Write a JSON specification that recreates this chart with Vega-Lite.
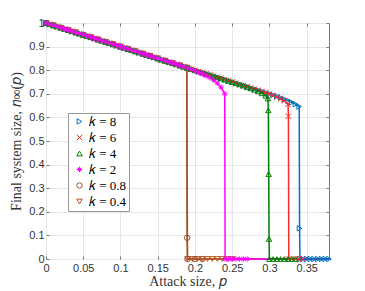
{
  "$schema": "https://vega.github.io/schema/vega-lite/v6.json",
  "width": 283,
  "height": 236,
  "autosize": {"type": "none"},
  "padding": {"left": 46, "top": 23, "right": 36, "bottom": 32},
  "background": "white",
  "config": {
    "view": {"stroke": "#777", "strokeWidth": 1},
    "font": "Liberation Sans",
    "axis": {
      "domain": false,
      "gridColor": "#e6e6e6",
      "gridWidth": 1,
      "tickColor": "#777",
      "tickSize": -3,
      "labelFont": "Liberation Sans",
      "labelFontSize": 11,
      "labelColor": "#333",
      "titleFont": "Liberation Serif",
      "titleFontSize": 14,
      "titleFontWeight": "normal",
      "titleColor": "#333"
    },
    "legend": {
      "orient": "none",
      "legendX": 22,
      "legendY": 90,
      "padding": 2,
      "rowPadding": 2,
      "fillColor": "white",
      "strokeColor": "#999",
      "labelFont": "Liberation Serif",
      "labelFontSize": 13,
      "labelColor": "#000",
      "symbolSize": 30,
      "symbolStrokeWidth": 1,
      "symbolOffset": 3,
      "labelOffset": 3
    }
  },
  "datasets": {
    "pts": [
      {"k":"0.4","p":0,"n":1},{"k":"0.4","p":0.01,"n":0.99},{"k":"0.4","p":0.02,"n":0.98},{"k":"0.4","p":0.03,"n":0.97},{"k":"0.4","p":0.04,"n":0.96},{"k":"0.4","p":0.05,"n":0.95},{"k":"0.4","p":0.06,"n":0.94},{"k":"0.4","p":0.07,"n":0.93},{"k":"0.4","p":0.08,"n":0.92},{"k":"0.4","p":0.09,"n":0.91},{"k":"0.4","p":0.1,"n":0.9},{"k":"0.4","p":0.11,"n":0.89},{"k":"0.4","p":0.12,"n":0.88},{"k":"0.4","p":0.13,"n":0.87},{"k":"0.4","p":0.14,"n":0.86},{"k":"0.4","p":0.15,"n":0.85},{"k":"0.4","p":0.16,"n":0.84},{"k":"0.4","p":0.17,"n":0.83},{"k":"0.4","p":0.18,"n":0.82},{"k":"0.4","p":0.189,"n":0.811},{"k":"0.4","p":0.19,"n":0},{"k":"0.4","p":0.1967,"n":0},{"k":"0.4","p":0.2033,"n":0},{"k":"0.4","p":0.21,"n":0},{"k":"0.4","p":0.2167,"n":0},{"k":"0.4","p":0.2233,"n":0},{"k":"0.4","p":0.23,"n":0},{"k":"0.4","p":0.2367,"n":0},{"k":"0.4","p":0.2433,"n":0},{"k":"0.4","p":0.25,"n":0},
      {"k":"0.8","p":0,"n":1},{"k":"0.8","p":0.01,"n":0.99},{"k":"0.8","p":0.02,"n":0.98},{"k":"0.8","p":0.03,"n":0.97},{"k":"0.8","p":0.04,"n":0.96},{"k":"0.8","p":0.05,"n":0.95},{"k":"0.8","p":0.06,"n":0.94},{"k":"0.8","p":0.07,"n":0.93},{"k":"0.8","p":0.08,"n":0.92},{"k":"0.8","p":0.09,"n":0.91},{"k":"0.8","p":0.1,"n":0.9},{"k":"0.8","p":0.11,"n":0.89},{"k":"0.8","p":0.12,"n":0.88},{"k":"0.8","p":0.13,"n":0.87},{"k":"0.8","p":0.14,"n":0.86},{"k":"0.8","p":0.15,"n":0.85},{"k":"0.8","p":0.16,"n":0.84},{"k":"0.8","p":0.17,"n":0.83},{"k":"0.8","p":0.18,"n":0.82},{"k":"0.8","p":0.189,"n":0.811},{"k":"0.8","p":0.1895,"n":0.09},{"k":"0.8","p":0.19,"n":0},{"k":"0.8","p":0.2,"n":0},{"k":"0.8","p":0.21,"n":0},
      {"k":"8","p":0,"n":1},{"k":"8","p":0.005,"n":0.995},{"k":"8","p":0.01,"n":0.99},{"k":"8","p":0.015,"n":0.985},{"k":"8","p":0.02,"n":0.98},{"k":"8","p":0.025,"n":0.975},{"k":"8","p":0.03,"n":0.97},{"k":"8","p":0.035,"n":0.965},{"k":"8","p":0.04,"n":0.96},{"k":"8","p":0.045,"n":0.955},{"k":"8","p":0.05,"n":0.95},{"k":"8","p":0.055,"n":0.945},{"k":"8","p":0.06,"n":0.94},{"k":"8","p":0.065,"n":0.935},{"k":"8","p":0.07,"n":0.93},{"k":"8","p":0.075,"n":0.925},{"k":"8","p":0.08,"n":0.92},{"k":"8","p":0.085,"n":0.915},{"k":"8","p":0.09,"n":0.91},{"k":"8","p":0.095,"n":0.905},{"k":"8","p":0.1,"n":0.9},{"k":"8","p":0.105,"n":0.895},{"k":"8","p":0.11,"n":0.89},{"k":"8","p":0.115,"n":0.885},{"k":"8","p":0.12,"n":0.88},{"k":"8","p":0.125,"n":0.875},{"k":"8","p":0.13,"n":0.87},{"k":"8","p":0.135,"n":0.865},{"k":"8","p":0.14,"n":0.86},{"k":"8","p":0.145,"n":0.855},{"k":"8","p":0.15,"n":0.85},{"k":"8","p":0.155,"n":0.845},{"k":"8","p":0.16,"n":0.84},{"k":"8","p":0.165,"n":0.835},{"k":"8","p":0.17,"n":0.83},{"k":"8","p":0.175,"n":0.825},{"k":"8","p":0.18,"n":0.82},{"k":"8","p":0.185,"n":0.815},{"k":"8","p":0.19,"n":0.81},{"k":"8","p":0.195,"n":0.805},{"k":"8","p":0.2,"n":0.8},{"k":"8","p":0.205,"n":0.795},{"k":"8","p":0.21,"n":0.79},{"k":"8","p":0.215,"n":0.785},{"k":"8","p":0.22,"n":0.78},{"k":"8","p":0.225,"n":0.775},{"k":"8","p":0.23,"n":0.77},{"k":"8","p":0.235,"n":0.765},{"k":"8","p":0.24,"n":0.76},{"k":"8","p":0.245,"n":0.755},{"k":"8","p":0.25,"n":0.75},{"k":"8","p":0.255,"n":0.745},{"k":"8","p":0.26,"n":0.74},{"k":"8","p":0.265,"n":0.735},{"k":"8","p":0.27,"n":0.73},{"k":"8","p":0.275,"n":0.725},{"k":"8","p":0.28,"n":0.72},{"k":"8","p":0.285,"n":0.715},{"k":"8","p":0.29,"n":0.71},{"k":"8","p":0.295,"n":0.705},{"k":"8","p":0.3,"n":0.7},{"k":"8","p":0.305,"n":0.695},{"k":"8","p":0.31,"n":0.69},{"k":"8","p":0.315,"n":0.684},{"k":"8","p":0.32,"n":0.677},{"k":"8","p":0.325,"n":0.671},{"k":"8","p":0.33,"n":0.664},{"k":"8","p":0.335,"n":0.656},{"k":"8","p":0.34,"n":0.646},{"k":"8","p":0.3405,"n":0.13},{"k":"8","p":0.341,"n":0},{"k":"8","p":0.345,"n":0},{"k":"8","p":0.35,"n":0},{"k":"8","p":0.355,"n":0},{"k":"8","p":0.36,"n":0},{"k":"8","p":0.365,"n":0},{"k":"8","p":0.37,"n":0},{"k":"8","p":0.375,"n":0},{"k":"8","p":0.38,"n":0},
      {"k":"6","p":0,"n":1},{"k":"6","p":0.005,"n":0.995},{"k":"6","p":0.01,"n":0.99},{"k":"6","p":0.015,"n":0.985},{"k":"6","p":0.02,"n":0.98},{"k":"6","p":0.025,"n":0.975},{"k":"6","p":0.03,"n":0.97},{"k":"6","p":0.035,"n":0.965},{"k":"6","p":0.04,"n":0.96},{"k":"6","p":0.045,"n":0.955},{"k":"6","p":0.05,"n":0.95},{"k":"6","p":0.055,"n":0.945},{"k":"6","p":0.06,"n":0.94},{"k":"6","p":0.065,"n":0.935},{"k":"6","p":0.07,"n":0.93},{"k":"6","p":0.075,"n":0.925},{"k":"6","p":0.08,"n":0.92},{"k":"6","p":0.085,"n":0.915},{"k":"6","p":0.09,"n":0.91},{"k":"6","p":0.095,"n":0.905},{"k":"6","p":0.1,"n":0.9},{"k":"6","p":0.105,"n":0.895},{"k":"6","p":0.11,"n":0.89},{"k":"6","p":0.115,"n":0.885},{"k":"6","p":0.12,"n":0.88},{"k":"6","p":0.125,"n":0.875},{"k":"6","p":0.13,"n":0.87},{"k":"6","p":0.135,"n":0.865},{"k":"6","p":0.14,"n":0.86},{"k":"6","p":0.145,"n":0.855},{"k":"6","p":0.15,"n":0.85},{"k":"6","p":0.155,"n":0.845},{"k":"6","p":0.16,"n":0.84},{"k":"6","p":0.165,"n":0.835},{"k":"6","p":0.17,"n":0.83},{"k":"6","p":0.175,"n":0.825},{"k":"6","p":0.18,"n":0.82},{"k":"6","p":0.185,"n":0.815},{"k":"6","p":0.19,"n":0.81},{"k":"6","p":0.195,"n":0.805},{"k":"6","p":0.2,"n":0.8},{"k":"6","p":0.205,"n":0.795},{"k":"6","p":0.21,"n":0.79},{"k":"6","p":0.215,"n":0.785},{"k":"6","p":0.22,"n":0.78},{"k":"6","p":0.225,"n":0.775},{"k":"6","p":0.23,"n":0.77},{"k":"6","p":0.235,"n":0.765},{"k":"6","p":0.24,"n":0.76},{"k":"6","p":0.245,"n":0.755},{"k":"6","p":0.25,"n":0.75},{"k":"6","p":0.255,"n":0.745},{"k":"6","p":0.26,"n":0.74},{"k":"6","p":0.265,"n":0.735},{"k":"6","p":0.27,"n":0.73},{"k":"6","p":0.275,"n":0.725},{"k":"6","p":0.28,"n":0.72},{"k":"6","p":0.285,"n":0.715},{"k":"6","p":0.29,"n":0.71},{"k":"6","p":0.295,"n":0.705},{"k":"6","p":0.3,"n":0.699},{"k":"6","p":0.305,"n":0.693},{"k":"6","p":0.31,"n":0.686},{"k":"6","p":0.315,"n":0.679},{"k":"6","p":0.32,"n":0.671},{"k":"6","p":0.325,"n":0.656},{"k":"6","p":0.3255,"n":0.605},{"k":"6","p":0.326,"n":0},{"k":"6","p":0.33,"n":0},{"k":"6","p":0.335,"n":0},{"k":"6","p":0.34,"n":0},{"k":"6","p":0.345,"n":0},
      {"k":"4","p":0,"n":1},{"k":"4","p":0.005,"n":0.995},{"k":"4","p":0.01,"n":0.99},{"k":"4","p":0.015,"n":0.985},{"k":"4","p":0.02,"n":0.98},{"k":"4","p":0.025,"n":0.975},{"k":"4","p":0.03,"n":0.97},{"k":"4","p":0.035,"n":0.965},{"k":"4","p":0.04,"n":0.96},{"k":"4","p":0.045,"n":0.955},{"k":"4","p":0.05,"n":0.95},{"k":"4","p":0.055,"n":0.945},{"k":"4","p":0.06,"n":0.94},{"k":"4","p":0.065,"n":0.935},{"k":"4","p":0.07,"n":0.93},{"k":"4","p":0.075,"n":0.925},{"k":"4","p":0.08,"n":0.92},{"k":"4","p":0.085,"n":0.915},{"k":"4","p":0.09,"n":0.91},{"k":"4","p":0.095,"n":0.905},{"k":"4","p":0.1,"n":0.9},{"k":"4","p":0.105,"n":0.895},{"k":"4","p":0.11,"n":0.89},{"k":"4","p":0.115,"n":0.885},{"k":"4","p":0.12,"n":0.88},{"k":"4","p":0.125,"n":0.875},{"k":"4","p":0.13,"n":0.87},{"k":"4","p":0.135,"n":0.865},{"k":"4","p":0.14,"n":0.86},{"k":"4","p":0.145,"n":0.855},{"k":"4","p":0.15,"n":0.85},{"k":"4","p":0.155,"n":0.845},{"k":"4","p":0.16,"n":0.84},{"k":"4","p":0.165,"n":0.835},{"k":"4","p":0.17,"n":0.83},{"k":"4","p":0.175,"n":0.825},{"k":"4","p":0.18,"n":0.82},{"k":"4","p":0.185,"n":0.815},{"k":"4","p":0.19,"n":0.81},{"k":"4","p":0.195,"n":0.805},{"k":"4","p":0.2,"n":0.8},{"k":"4","p":0.205,"n":0.795},{"k":"4","p":0.21,"n":0.79},{"k":"4","p":0.215,"n":0.785},{"k":"4","p":0.22,"n":0.78},{"k":"4","p":0.225,"n":0.775},{"k":"4","p":0.23,"n":0.77},{"k":"4","p":0.235,"n":0.765},{"k":"4","p":0.24,"n":0.76},{"k":"4","p":0.245,"n":0.755},{"k":"4","p":0.25,"n":0.75},{"k":"4","p":0.255,"n":0.745},{"k":"4","p":0.26,"n":0.74},{"k":"4","p":0.265,"n":0.735},{"k":"4","p":0.27,"n":0.729},{"k":"4","p":0.275,"n":0.723},{"k":"4","p":0.28,"n":0.717},{"k":"4","p":0.285,"n":0.71},{"k":"4","p":0.29,"n":0.702},{"k":"4","p":0.295,"n":0.692},{"k":"4","p":0.298,"n":0.68},{"k":"4","p":0.2985,"n":0.63},{"k":"4","p":0.299,"n":0.36},{"k":"4","p":0.2995,"n":0.085},{"k":"4","p":0.3,"n":0},{"k":"4","p":0.305,"n":0},{"k":"4","p":0.31,"n":0},{"k":"4","p":0.315,"n":0},{"k":"4","p":0.32,"n":0},{"k":"4","p":0.325,"n":0},{"k":"4","p":0.33,"n":0},{"k":"4","p":0.335,"n":0},
      {"k":"2","p":0,"n":1},{"k":"2","p":0.005,"n":0.995},{"k":"2","p":0.01,"n":0.99},{"k":"2","p":0.015,"n":0.985},{"k":"2","p":0.02,"n":0.98},{"k":"2","p":0.025,"n":0.975},{"k":"2","p":0.03,"n":0.97},{"k":"2","p":0.035,"n":0.965},{"k":"2","p":0.04,"n":0.96},{"k":"2","p":0.045,"n":0.955},{"k":"2","p":0.05,"n":0.95},{"k":"2","p":0.055,"n":0.945},{"k":"2","p":0.06,"n":0.94},{"k":"2","p":0.065,"n":0.935},{"k":"2","p":0.07,"n":0.93},{"k":"2","p":0.075,"n":0.925},{"k":"2","p":0.08,"n":0.92},{"k":"2","p":0.085,"n":0.915},{"k":"2","p":0.09,"n":0.91},{"k":"2","p":0.095,"n":0.905},{"k":"2","p":0.1,"n":0.9},{"k":"2","p":0.105,"n":0.895},{"k":"2","p":0.11,"n":0.89},{"k":"2","p":0.115,"n":0.885},{"k":"2","p":0.12,"n":0.88},{"k":"2","p":0.125,"n":0.875},{"k":"2","p":0.13,"n":0.87},{"k":"2","p":0.135,"n":0.865},{"k":"2","p":0.14,"n":0.86},{"k":"2","p":0.145,"n":0.855},{"k":"2","p":0.15,"n":0.85},{"k":"2","p":0.155,"n":0.845},{"k":"2","p":0.16,"n":0.84},{"k":"2","p":0.165,"n":0.835},{"k":"2","p":0.17,"n":0.83},{"k":"2","p":0.175,"n":0.825},{"k":"2","p":0.18,"n":0.82},{"k":"2","p":0.185,"n":0.815},{"k":"2","p":0.19,"n":0.809},{"k":"2","p":0.195,"n":0.803},{"k":"2","p":0.2,"n":0.797},{"k":"2","p":0.205,"n":0.791},{"k":"2","p":0.21,"n":0.784},{"k":"2","p":0.215,"n":0.776},{"k":"2","p":0.22,"n":0.768},{"k":"2","p":0.225,"n":0.758},{"k":"2","p":0.23,"n":0.745},{"k":"2","p":0.235,"n":0.728},{"k":"2","p":0.24,"n":0.7},{"k":"2","p":0.2405,"n":0},{"k":"2","p":0.245,"n":0},{"k":"2","p":0.25,"n":0},{"k":"2","p":0.255,"n":0},{"k":"2","p":0.26,"n":0},{"k":"2","p":0.265,"n":0},{"k":"2","p":0.27,"n":0}
    ],
    "tails": [
      {"k":"0.4","p":0.25,"n":0},{"k":"0.4","p":0.38,"n":0},
      {"k":"0.8","p":0.21,"n":0},{"k":"0.8","p":0.38,"n":0},
      {"k":"6","p":0.345,"n":0},{"k":"6","p":0.38,"n":0},
      {"k":"4","p":0.335,"n":0},{"k":"4","p":0.38,"n":0},
      {"k":"2","p":0.27,"n":0},{"k":"2","p":0.38,"n":0}
    ]
  },
  "layer": [
    {
      "encoding": {
        "x": {
          "field": "p", "type": "quantitative",
          "scale": {"domain": [0, 0.38], "nice": false, "zero": false},
          "axis": {"title": "Attack size, 𝑝", "values": [0, 0.05, 0.1, 0.15, 0.2, 0.25, 0.3, 0.35], "format": "~g", "labelPadding": 6, "titlePadding": 1, "labelFlush": false}
        },
        "y": {
          "field": "n", "type": "quantitative",
          "scale": {"domain": [0, 1], "nice": false},
          "axis": {"title": "Final system size, 𝑛∞(𝑝)", "values": [0, 0.1, 0.2, 0.3, 0.4, 0.5, 0.6, 0.7, 0.8, 0.9, 1], "format": "~g", "labelPadding": 5, "titlePadding": 5, "labelFlush": false}
        },
        "color": {"field": "k", "type": "nominal", "scale": {"domain": ["8", "6", "4", "2", "0.8", "0.4"], "range": ["#0072BD", "#FF2A2A", "#008000", "#FF00FF", "#A0522D", "#B8561E"]}, "legend": {"title": null, "labelExpr": "'𝑘 = ' + datum.label"}}
      },
      "layer": [
        {
          "data": {"name": "tails"},
          "mark": {"type": "line", "strokeWidth": 1.5}
        },
        {
          "data": {"name": "pts"},
          "mark": {"type": "line", "strokeWidth": 1.5}
        },
        {
          "data": {"name": "pts"},
          "mark": {"type": "point", "filled": false, "size": 30, "strokeWidth": 1, "opacity": 1},
          "encoding": {
            "shape": {"field": "k", "type": "nominal", "scale": {"domain": ["8", "6", "4", "2", "0.8", "0.4"], "range": ["triangle-right", "M-1,-1L1,1M-1,1L1,-1", "triangle-up", "M-1,0L1,0M0,-1L0,1M-0.7,-0.7L0.7,0.7M-0.7,0.7L0.7,-0.7", "circle", "triangle-down"]}, "legend": {"title": null, "labelExpr": "'𝑘 = ' + datum.label"}}
          }
        }
      ]
    },
    {
      "data": {"name": "tails"},
      "mark": {"type": "point", "opacity": 0},
      "encoding": {
        "x": {"field": "p", "type": "quantitative", "axis": {"orient": "top", "values": [0, 0.05, 0.1, 0.15, 0.2, 0.25, 0.3, 0.35], "labels": false, "grid": false, "title": null}},
        "y": {"field": "n", "type": "quantitative", "axis": {"orient": "right", "values": [0, 0.1, 0.2, 0.3, 0.4, 0.5, 0.6, 0.7, 0.8, 0.9, 1], "labels": false, "grid": false, "title": null}}
      }
    }
  ],
  "resolve": {"axis": {"x": "independent", "y": "independent"}}
}
